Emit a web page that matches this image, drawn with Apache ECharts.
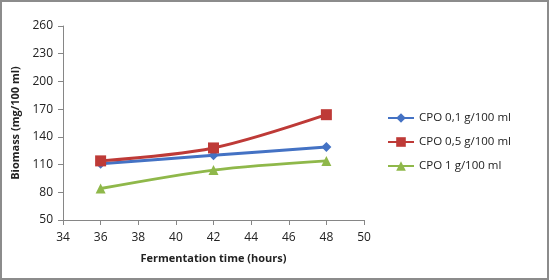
<!DOCTYPE html>
<html lang="en">
<head>
  <meta charset="UTF-8">
  <title>Biomass vs fermentation time</title>
  <script src="https://cdn.jsdelivr.net/npm/echarts@6.0.0/dist/echarts.min.js"></script>
  <style>
    html, body { margin: 0; padding: 0; background: #fff; }
    #main {
      width: 545px;
      height: 276px;
      border: 2px solid #8c8c8c;
    }
  </style>
</head>
<body>
  <div id="main"></div>
  <script>
    // data
    const hours = [36, 42, 48];
    const cpo01 = [111, 120, 129];
    const cpo05 = [114, 128, 164];
    const cpo1 = [84, 104, 114];

    const seriesNames = ['CPO 0,1 g/100 ml', 'CPO 0,5 g/100 ml', 'CPO 1 g/100 ml'];
    const colors = ['#4472c4', '#be3a37', '#8fb84a'];
    const symbols = ['diamond', 'rect', 'triangle'];
    const values = [cpo01, cpo05, cpo1];

    let myChart = echarts.init(document.getElementById('main'));
    const font = 'Open Sans, sans-serif';

    let option = {
      animation: false,
      grid: { left: 61, right: 183, top: 24, bottom: 58 },
      legend: {
        orient: 'vertical',
        left: 380,
        top: 105,
        itemGap: 12,
        itemWidth: 26,
        itemHeight: 12,
        textStyle: { fontFamily: font, fontSize: 11.5, color: '#222' },
        data: seriesNames
      },
      xAxis: {
        type: 'value',
        min: 34, max: 50, interval: 2,
        name: 'Fermentation time (hours)',
        nameLocation: 'middle',
        nameGap: 33,
        nameTextStyle: { fontFamily: font, fontSize: 11, fontWeight: 'bold', color: '#222' },
        axisLine: { lineStyle: { color: '#868686', width: 1 } },
        axisTick: { show: true, inside: false, length: 5, lineStyle: { color: '#868686' } },
        axisLabel: { fontFamily: font, fontSize: 12, color: '#222', margin: 12 },
        splitLine: { show: false }
      },
      yAxis: {
        type: 'value',
        min: 50, max: 260, interval: 30,
        name: 'Biomass (mg/100 ml)',
        nameLocation: 'middle',
        nameGap: 35,
        nameTextStyle: { fontFamily: font, fontSize: 11, fontWeight: 'bold', color: '#222' },
        axisLine: { show: true, lineStyle: { color: '#868686', width: 1 } },
        axisTick: { show: true, inside: false, length: 5, lineStyle: { color: '#868686' } },
        axisLabel: { fontFamily: font, fontSize: 12, color: '#222', margin: 10 },
        splitLine: { show: false }
      },
      series: seriesNames.map((name, i) => ({
        name: name,
        type: 'line',
        data: hours.map((h, j) => [h, values[i][j]]),
        smooth: 0.3,
        symbol: symbols[i],
        symbolSize: i === 1 ? 11 : 10,
        lineStyle: { color: colors[i], width: 3 },
        itemStyle: { color: colors[i] }
      }))
    };
    myChart.setOption(option);
  </script>
</body>
</html>
